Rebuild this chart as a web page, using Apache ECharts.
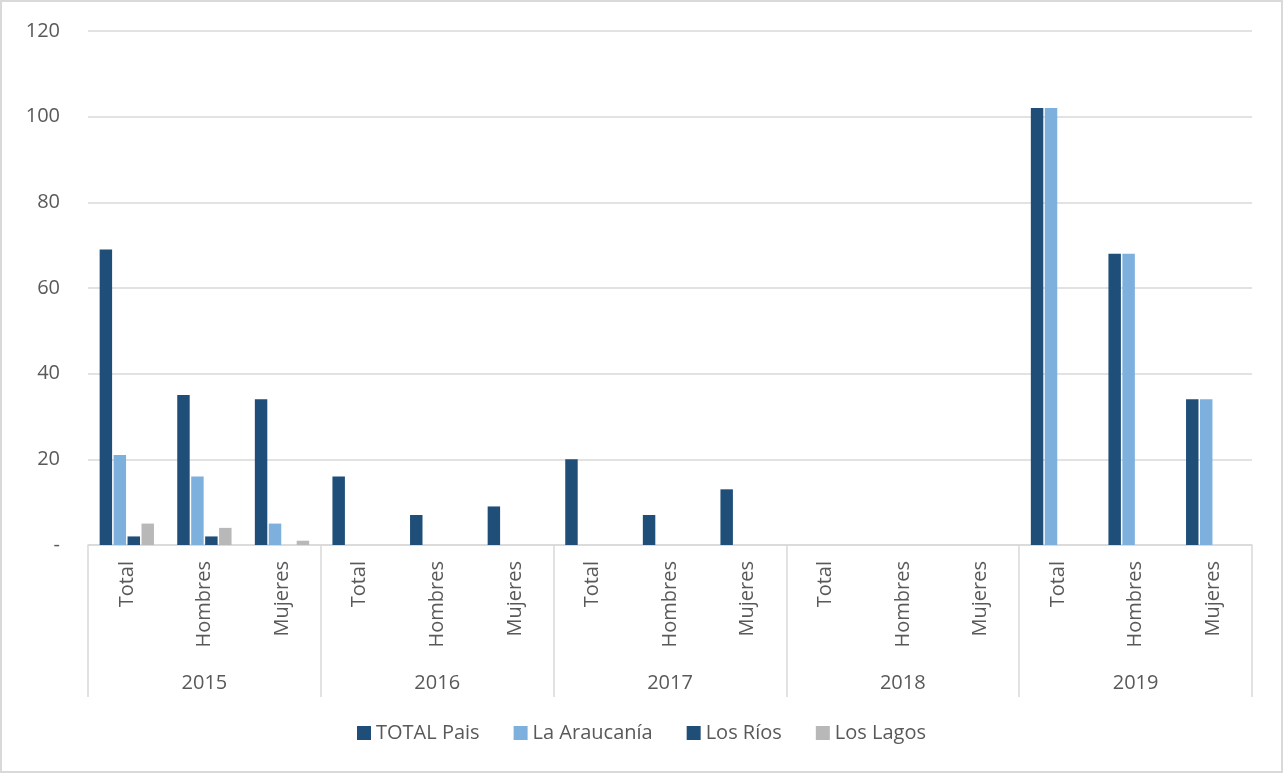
<!DOCTYPE html>
<html>
<head>
<meta charset="utf-8">
<script src="https://cdn.jsdelivr.net/npm/echarts@6/dist/echarts.min.js"></script>
<style>
html,body{margin:0;padding:0;background:#fff;}
#c{width:1283px;height:773px;box-sizing:border-box;border:2px solid #d9d9d9;}
</style>
</head>
<body>
<div id="c"></div>
<script>
const years = ['2015','2016','2017','2018','2019'];
const groups = ['Total','Hombres','Mujeres'];
const categories = [];
years.forEach(y => groups.forEach(g => categories.push(g)));
const yTicks = [0,20,40,60,80,100,120];

const totalPais   = [69,35,34, 16,7,9, 20,7,13, 0,0,0, 102,68,34];
const araucania   = [21,16,5,  0,0,0,  0,0,0,   0,0,0, 102,68,34];
const losRios     = [2,2,0,    0,0,0,  0,0,0,   0,0,0, 0,0,0];
const losLagos    = [5,4,1,    0,0,0,  0,0,0,   0,0,0, 0,0,0];

const seriesNames = ['TOTAL Pais','La Araucanía','Los Ríos','Los Lagos'];
const seriesColors = ['#1f4e79','#7eb0de','#1f4e79','#b8b8b8'];
const seriesData = [totalPais, araucania, losRios, losLagos];

const font = '"Open Sans", sans-serif';
const chart = echarts.init(document.getElementById('c'));
chart.setOption({
  animation: false,
  textStyle: {fontFamily: font},
  grid: {left: 86, right: 29, top: 29, bottom: 226, containLabel: false},
  legend: {
    data: seriesNames,
    bottom: 23,
    left: 'center',
    icon: 'rect',
    itemWidth: 14,
    itemHeight: 14,
    itemGap: 34,
    textStyle: {fontFamily: font, fontSize: 20, color: '#595959'}
  },
  xAxis: [
    {
      type: 'category',
      data: categories,
      position: 'bottom',
      axisLine: {show: true, lineStyle: {color: '#d9d9d9', width: 1.5}},
      axisTick: {show: false},
      axisLabel: {rotate: 90, margin: 16, interval: 0, fontFamily: font, fontSize: 20, color: '#595959'},
      splitLine: {show: false}
    },
    {
      type: 'category',
      data: years,
      position: 'bottom',
      axisLine: {show: false},
      axisTick: {show: true, length: 152, interval: 0, lineStyle: {color: '#d9d9d9', width: 1.5}},
      axisLabel: {margin: 128, interval: 0, fontFamily: font, fontSize: 20, color: '#595959'},
      splitLine: {show: false}
    }
  ],
  yAxis: {
    type: 'value',
    min: yTicks[0],
    max: yTicks[yTicks.length-1],
    interval: 20,
    axisLine: {show: false},
    axisTick: {show: false},
    axisLabel: {margin: 28, fontFamily: font, fontSize: 20, color: '#595959',
      formatter: v => v === 0 ? '-' : String(v)},
    splitLine: {lineStyle: {color: '#d9d9d9', width: 1.5}}
  },
  series: seriesNames.map((n, i) => ({
    name: n,
    type: 'bar',
    xAxisIndex: 0,
    data: seriesData[i],
    barCategoryGap: '30%',
    barGap: '12%',
    itemStyle: {color: seriesColors[i]}
  }))
});
</script>
</body>
</html>
